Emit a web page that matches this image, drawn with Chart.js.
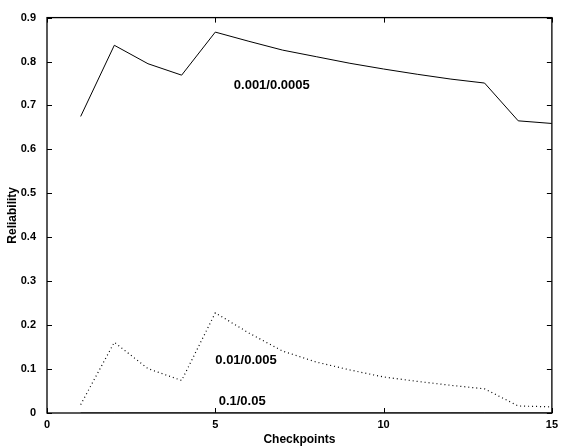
<!DOCTYPE html>
<html lang="en">
<head>
  <meta charset="UTF-8">
  <title>Reliability vs Checkpoints</title>
  <script src="https://cdn.jsdelivr.net/npm/chart.js"></script>
  <style>
    html, body { margin: 0; padding: 0; background: #fff; }
    #wrap { width: 563px; height: 447px; position: relative; }
  </style>
</head>
<body>
<div id="wrap"><canvas id="relChart"></canvas></div>
<script>
  // data
  var checkpoints = [1, 2, 3, 4, 5, 6, 7, 8, 9, 10, 11, 12, 13, 14, 15];
  var rel001 = [0.675, 0.837, 0.795, 0.769, 0.867, 0.846, 0.826, 0.811, 0.796, 0.783, 0.771, 0.760, 0.751, 0.665, 0.659];
  var rel01  = [0.019, 0.161, 0.101, 0.074, 0.228, 0.182, 0.141, 0.116, 0.098, 0.082, 0.072, 0.063, 0.055, 0.016, 0.014];
  var rel1   = [0, 0, 0, 0, 0, 0, 0, 0, 0, 0, 0, 0, 0, 0, 0];

  var xTickValues = [0, 5, 10, 15];
  var yTickValues = [0, 0.1, 0.2, 0.3, 0.4, 0.5, 0.6, 0.7, 0.8, 0.9];
  var yTickLabels = ['0', '0.1', '0.2', '0.3', '0.4', '0.5', '0.6', '0.7', '0.8', '0.9'];

  // curve labels, placed in data coordinates
  var labelNames = ['0.001/0.0005', '0.01/0.005', '0.1/0.05'];
  var labelX = [5.55, 5.0, 5.1];
  var labelY = [0.745, 0.12, 0.027];

  function toPoints(ys) {
    return checkpoints.map(function (x, i) { return { x: x, y: ys[i] }; });
  }

  var FONT = 'Liberation Sans, Arial, sans-serif';

  // box + inward ticks on all four sides, plus the curve labels
  var matlabFrame = {
    id: 'matlabFrame',
    afterDatasetsDraw: function (chart) {
      var ctx = chart.ctx, a = chart.chartArea;
      var xs = chart.scales.x, ys = chart.scales.y;
      ctx.save();
      ctx.strokeStyle = '#000';
      ctx.lineWidth = 1.3;
      ctx.strokeRect(a.left, a.top, a.right - a.left, a.bottom - a.top);
      ctx.lineWidth = 1;
      ctx.beginPath();
      xTickValues.forEach(function (v) {
        var px = Math.round(xs.getPixelForValue(v)) + 0.5;
        ctx.moveTo(px, a.bottom); ctx.lineTo(px, a.bottom - 5);
        ctx.moveTo(px, a.top); ctx.lineTo(px, a.top + 5);
      });
      yTickValues.forEach(function (v) {
        var py = Math.round(ys.getPixelForValue(v)) + 0.5;
        ctx.moveTo(a.left, py); ctx.lineTo(a.left + 5, py);
        ctx.moveTo(a.right, py); ctx.lineTo(a.right - 5, py);
      });
      ctx.stroke();

      ctx.fillStyle = '#000';
      ctx.font = 'bold 13px ' + FONT;
      ctx.textAlign = 'left';
      ctx.textBaseline = 'middle';
      labelNames.forEach(function (t, i) {
        ctx.fillText(t, xs.getPixelForValue(labelX[i]), ys.getPixelForValue(labelY[i]));
      });
      ctx.restore();
    }
  };

  var ctx = document.getElementById('relChart').getContext('2d');
  var relChart = new Chart(ctx, {
    type: 'line',
    data: {
      datasets: [
        { label: '0.001/0.0005', data: toPoints(rel001), borderColor: '#000', borderWidth: 1, pointRadius: 0, tension: 0 },
        { label: '0.01/0.005', data: toPoints(rel01), borderColor: '#000', borderWidth: 1.2, borderDash: [1, 3], pointRadius: 0, tension: 0 },
        { label: '0.1/0.05', data: toPoints(rel1), borderColor: '#000', borderWidth: 1, pointRadius: 0, tension: 0 }
      ]
    },
    options: {
      responsive: true,
      maintainAspectRatio: false,
      animation: false,
      layout: { padding: { top: 12, right: 8, left: 5, bottom: 0 } },
      plugins: { legend: { display: false }, tooltip: { enabled: false } },
      scales: {
        x: {
          type: 'linear',
          min: 0, max: 15,
          afterBuildTicks: function (s) { s.ticks = xTickValues.map(function (v) { return { value: v }; }); },
          afterFit: function (s) { s.height = 34; },
          grid: { display: false, drawTicks: false },
          border: { display: false },
          ticks: { color: '#000', padding: 5, maxRotation: 0, font: { family: FONT, size: 11, weight: 'bold' } },
          title: { display: true, text: 'Checkpoints', color: '#000', padding: { top: 1, bottom: 0 }, font: { family: FONT, size: 12, weight: 'bold' } }
        },
        y: {
          min: 0, max: 0.9,
          afterBuildTicks: function (s) { s.ticks = yTickValues.map(function (v) { return { value: v }; }); },
          afterFit: function (s) { s.width = 42; },
          grid: { display: false, drawTicks: false },
          border: { display: false },
          ticks: {
            color: '#000', padding: 11,
            font: { family: FONT, size: 11, weight: 'bold' },
            callback: function (v) {
              var i = yTickValues.findIndex(function (t) { return Math.abs(t - v) < 1e-9; });
              return i >= 0 ? yTickLabels[i] : '';
            }
          },
          title: { display: true, text: 'Reliability', color: '#000', padding: { top: 0, bottom: 0 }, font: { family: FONT, size: 12, weight: 'bold' } }
        }
      }
    },
    plugins: [matlabFrame]
  });
</script>
</body>
</html>
